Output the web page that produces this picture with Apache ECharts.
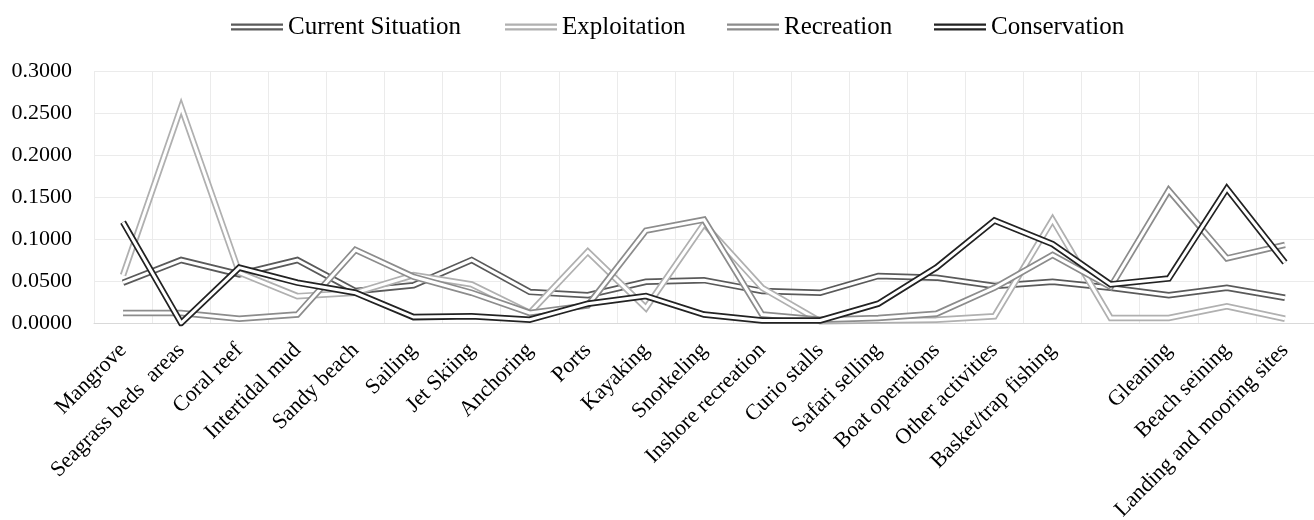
<!DOCTYPE html>
<html>
<head>
<meta charset="utf-8">
<script src="https://cdn.jsdelivr.net/npm/echarts@6/dist/echarts.min.js"></script>
<style>
  html, body { margin: 0; padding: 0; background: #fff; }
  #chart { width: 1314px; height: 520px; }
</style>
</head>
<body>
<div id="chart"></div>
<script>
const categories = ['Mangrove', 'Seagrass beds  areas', 'Coral reef', 'Intertidal mud', 'Sandy beach',
    'Sailing', 'Jet Skiing', 'Anchoring', 'Ports', 'Kayaking', 'Snorkeling', 'Inshore recreation',
    'Curio stalls', 'Safari selling', 'Boat operations', 'Other activities', 'Basket/trap fishing', '',
    'Gleaning', 'Beach seining', 'Landing and mooring sites'];

const currentSituation = [0.048, 0.075, 0.058, 0.075, 0.038, 0.045, 0.075, 0.037, 0.033, 0.049, 0.051,
    0.038, 0.036, 0.056, 0.054, 0.044, 0.049, 0.042, 0.033, 0.042, 0.030];
const exploitation = [0.057, 0.257, 0.060, 0.032, 0.036, 0.057, 0.046, 0.012, 0.085, 0.018, 0.118,
    0.042, 0.002, 0.003, 0.004, 0.008, 0.123, 0.006, 0.006, 0.020, 0.005];
const recreation = [0.012, 0.012, 0.005, 0.010, 0.087, 0.055, 0.036, 0.012, 0.021, 0.110, 0.123,
    0.010, 0.004, 0.006, 0.011, 0.042, 0.081, 0.043, 0.158, 0.077, 0.093];
const conservation = [0.120, 0.000, 0.066, 0.048, 0.036, 0.007, 0.008, 0.004, 0.023, 0.032, 0.010,
    0.003, 0.003, 0.023, 0.066, 0.122, 0.094, 0.046, 0.053, 0.160, 0.072];

const yTicks = { min: 0, max: 0.3, interval: 0.05 };

const seriesDefs = [
    { name: 'Current Situation', data: currentSituation, color: '#5a5a5a' },
    { name: 'Exploitation', data: exploitation, color: '#b0b0b0' },
    { name: 'Recreation', data: recreation, color: '#8c8c8c' },
    { name: 'Conservation', data: conservation, color: '#222222' }
];
const legendLeft = [226, 500, 722, 929];

const font = 'Liberation Serif';
const chart = echarts.init(document.getElementById('chart'));

// each series is a thick line with a thin white core on top -> double line look
const series = [];
seriesDefs.forEach(function (s) {
    series.push({
        name: s.name, type: 'line', data: s.data, symbol: 'none', silent: true,
        itemStyle: { color: s.color },
        lineStyle: { color: s.color, width: 6.5, join: 'miter', miterLimit: 20 }
    });
    series.push({
        name: s.name + ' core', type: 'line', data: s.data, symbol: 'none', silent: true,
        lineStyle: { color: '#ffffff', width: 3, join: 'miter', miterLimit: 20 }
    });
});

const legends = seriesDefs.map(function (s, i) {
    return {
        left: legendLeft[i], top: 9,
        itemWidth: 52, itemHeight: 7,
        symbolKeepAspect: false,
        selectedMode: false,
        textStyle: { fontFamily: font, fontSize: 25, color: '#000', lineHeight: 26 },
        data: [{
            name: s.name,
            icon: 'path://M0,0H52V2.2H0Z M0,4.8H52V7H0Z',
            itemStyle: { color: s.color, borderWidth: 0 },
            lineStyle: { width: 0 }
        }]
    };
});

chart.setOption({
    animation: false,
    legend: legends,
    grid: { left: 94, right: 0, top: 71, bottom: 197, containLabel: false, outerBoundsMode: 'none' },
    xAxis: {
        type: 'category',
        data: categories,
        boundaryGap: true,
        axisLine: { lineStyle: { color: '#d9d9d9', width: 1 } },
        axisTick: { show: false },
        splitLine: { show: true, lineStyle: { color: '#ebebeb', width: 1 } },
        axisLabel: {
            interval: 0, rotate: 45, margin: 24,
            fontFamily: font, fontSize: 22, color: '#000'
        }
    },
    yAxis: {
        type: 'value',
        min: yTicks.min, max: yTicks.max, interval: yTicks.interval,
        axisLine: { show: false },
        axisTick: { show: false },
        splitLine: { lineStyle: { color: '#ebebeb', width: 1 } },
        axisLabel: {
            margin: 22, fontFamily: font, fontSize: 22, color: '#000',
            formatter: function (v) { return v.toFixed(4); }
        }
    },
    series: series
});
</script>
</body>
</html>
